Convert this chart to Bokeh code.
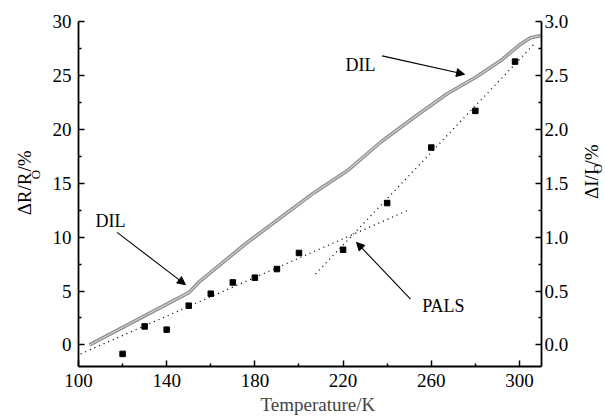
import math
from bokeh.plotting import figure
from bokeh.layouts import row
from bokeh.models import (Range1d, LinearAxis, FixedTicker, NumeralTickFormatter,
                          Label, Arrow, NormalHead, Title)
from bokeh.embed import file_html
from bokeh.resources import INLINE

# ---------------- data ----------------
x_ticks = [100, 140, 180, 220, 260, 300]
x_minor = [120, 160, 200, 240, 280]
yl_ticks = [0, 5, 10, 15, 20, 25, 30]
yl_minor = [2.5, 7.5, 12.5, 17.5, 22.5, 27.5]
yr_ticks = [0.0, 0.5, 1.0, 1.5, 2.0, 2.5, 3.0]
yr_minor = [0.25, 0.75, 1.25, 1.75, 2.25, 2.75]

# DIL curve (left axis, dR/R0 %)
dil_T = [105, 130, 150, 155, 176.5, 191.6, 206.7, 221.9, 237, 252.1, 267.2, 280,
         291.4, 300.5, 305, 310]
dil_v = [0.0, 2.7, 4.85, 5.9, 9.5, 11.8, 14.1, 16.15, 18.8, 21.1, 23.3, 24.8,
         26.35, 27.9, 28.5, 28.7]

# PALS points (right axis, dI/I0 %)
pals_T = [120, 130, 140, 150, 160, 170, 180, 190, 200, 220, 240, 260, 280, 298]
pals_v = [-0.083, 0.172, 0.142, 0.364, 0.475, 0.58, 0.624, 0.704, 0.853, 0.883,
          1.316, 1.831, 2.171, 2.628]

# linear fits of PALS (right axis)
fit1_T = [101, 249]
fit1_v = [-0.083, 1.245]
fit2_T = [207.5, 307.3]
fit2_v = [0.658, 2.805]

FONT = "Liberation Serif, Times New Roman, serif"
H = 420

p = figure(width=529, height=H, output_backend="svg", toolbar_location=None,
           x_range=Range1d(100, 310), y_range=Range1d(-2, 30),
           min_border_left=30, min_border_right=36, min_border_top=21,
           min_border_bottom=54)
p.extra_y_ranges = {"right": Range1d(-0.2, 3.0)}
p.outline_line_color = None
p.grid.visible = False
p.background_fill_color = "white"
p.border_fill_color = "white"

def style_axis(ax, standoff):
    ax.axis_line_width = 1.8
    ax.axis_line_color = "black"
    ax.major_tick_in = 6
    ax.major_tick_out = 0
    ax.minor_tick_in = 3
    ax.minor_tick_out = 0
    ax.major_tick_line_width = 1.5
    ax.minor_tick_line_width = 1.5
    ax.major_label_text_font = FONT
    ax.major_label_text_font_size = "19px"
    ax.major_label_text_color = "black"
    ax.major_label_standoff = standoff

p.xaxis.ticker = FixedTicker(ticks=x_ticks, minor_ticks=x_minor)
p.yaxis.ticker = FixedTicker(ticks=yl_ticks, minor_ticks=yl_minor)
style_axis(p.xaxis[0], 7)
style_axis(p.yaxis[0], 7)

right = LinearAxis(y_range_name="right",
                   ticker=FixedTicker(ticks=yr_ticks, minor_ticks=yr_minor),
                   formatter=NumeralTickFormatter(format="0.0"))
style_axis(right, 3)
p.add_layout(right, "right")

# DIL curve: grey double-edged line
p.line(dil_T, dil_v, line_color="#8e8e8e", line_width=3.6)
p.line(dil_T, dil_v, line_color="#cfcfcf", line_width=1.2)

# PALS fits and points
p.line(fit1_T, fit1_v, y_range_name="right", line_color="black", line_width=1.3,
       line_dash="1 4")
p.line(fit2_T, fit2_v, y_range_name="right", line_color="black", line_width=1.3,
       line_dash="1 4")
p.scatter(pals_T, pals_v, y_range_name="right", marker="square", size=5.5,
          fill_color="black", line_color="black")

# annotations
def arrow(x0, y0, x1, y1):
    p.add_layout(Arrow(end=NormalHead(size=8, fill_color="black", line_color="black",
                                      line_width=1),
                       x_start=x0, y_start=y0, x_end=x1, y_end=y1,
                       line_color="black", line_width=1.1))

def label(fig, x, y, t, size="18px", angle=0.0, baseline="alphabetic"):
    fig.add_layout(Label(x=x, y=y, text=t, angle=angle, text_font=FONT,
                         text_font_size=size, text_color="black",
                         text_baseline=baseline))

label(p, 107.7, 11.46, "DIL")
arrow(117.5, 10.44, 148.5, 5.59)
label(p, 221.1, 26.0, "DIL")
arrow(237.7, 26.81, 275.1, 25.1)
label(p, 255.9, 3.64, "PALS")
arrow(250.6, 4.26, 226.1, 9.51)

p.add_layout(Title(text="Temperature/K", align="left", text_font=FONT,
                   text_font_size="19px", text_font_style="normal",
                   standoff=4, offset=182), "below")

# side strips holding the vertical axis titles (coordinates = pixels)
def strip(x0, x1):
    f = figure(width=x1 - x0, height=H, output_backend="svg", toolbar_location=None,
               x_range=Range1d(x0, x1), y_range=Range1d(0, H),
               x_axis_type=None, y_axis_type=None, min_border=0)
    f.outline_line_color = None
    f.background_fill_color = "white"
    f.border_fill_color = "white"
    return f

R = math.pi / 2
left = strip(0, 48)
label(left, 24.2, H - 236, "ΔR/R", size="19px", angle=R, baseline="middle")
label(left, 34.5, H - 192.0, "O", size="13px", angle=R, baseline="middle")
label(left, 24.2, H - 182.5, "/%", size="19px", angle=R, baseline="middle")

rstrip = strip(577, 605)
label(rstrip, 591.0, H - 216, "ΔI/I", size="19px", angle=R, baseline="middle")
label(rstrip, 597.0, H - 184.8, "O", size="13px", angle=R, baseline="middle")
label(rstrip, 591.0, H - 175.3, "/%", size="19px", angle=R, baseline="middle")

layout = row(left, p, rstrip)
open("out.html", "w").write(file_html(layout, INLINE))
